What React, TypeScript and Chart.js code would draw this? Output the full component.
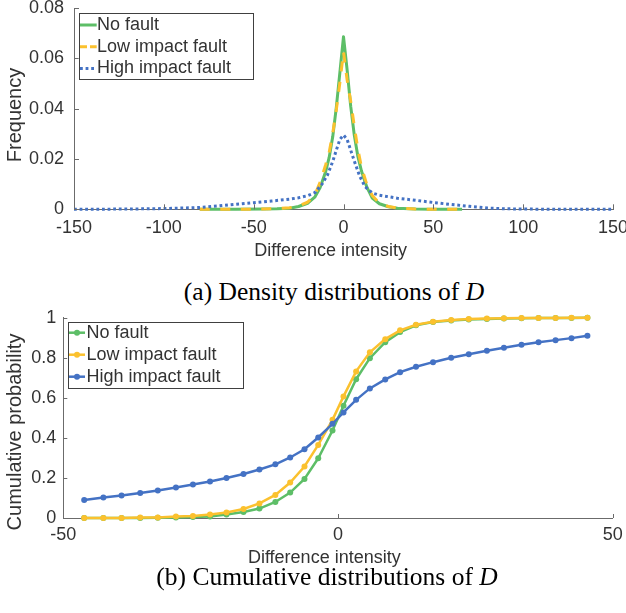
import React, { useEffect, useRef } from 'react';
import { Chart, registerables } from 'chart.js';

Chart.register(...registerables);

const FONT = "'Liberation Sans', Arial, sans-serif";
const TEXT = '#333333';
const AXIS = '#6b6b6b';
const GREEN = '#5DBE67';
const YELLOW = '#FBC12E';
const BLUE = '#4472C4';

const seriesLabels = ['No fault', 'Low impact fault', 'High impact fault'];
const xAxisTitle = 'Difference intensity';

// (a) density distributions
const densityX = [-80, -60, -45, -37, -30, -25, -20, -16, -13, -10, -8, -6, -4, -2, 0, 2, 4, 6, 8, 10, 13, 16, 20, 25, 30, 40, 50, 66];
const densityNoFault = [0, 0, 0.0001, 0.0002, 0.0004, 0.0011, 0.0024, 0.0048, 0.0087, 0.0148, 0.0205, 0.0288, 0.0405, 0.0545, 0.0686, 0.0555, 0.041, 0.0295, 0.021, 0.0152, 0.0088, 0.0045, 0.0022, 0.001, 0.0004, 0.0001, 0, 0];
const densityLowImpact = [0, 0, 0.0001, 0.0003, 0.0006, 0.0013, 0.0028, 0.0056, 0.0108, 0.0175, 0.0225, 0.0302, 0.0395, 0.0505, 0.0626, 0.0515, 0.043, 0.033, 0.0238, 0.0168, 0.0098, 0.0055, 0.0024, 0.0011, 0.0005, 0.0001, 0, 0];
const densityHighX = [-150, -120, -100, -80, -70, -60, -50, -40, -30, -25, -20, -16, -12, -9, -6, -4, -2, 0, 2, 4, 6, 9, 12, 16, 20, 25, 30, 40, 50, 60, 70, 80, 90, 100, 120, 150];
const densityHighImpact = [0, 0.0001, 0.0003, 0.0007, 0.0013, 0.002, 0.0026, 0.0033, 0.004, 0.0046, 0.0054, 0.0066, 0.01, 0.0135, 0.019, 0.0235, 0.0278, 0.0295, 0.0278, 0.0235, 0.0192, 0.0132, 0.009, 0.0065, 0.0056, 0.005, 0.0044, 0.0036, 0.0027, 0.0019, 0.0012, 0.0005, 0.0002, 0.0001, 0, 0];
const densityXRange = [-150, 150];
const densityXStep = 50;
const densityYRange = [0, 0.08];
const densityYStep = 0.02;

// (b) cumulative distributions
const cumX = [-46.2, -42.7, -39.4, -36.0, -32.8, -29.5, -26.4, -23.3, -20.3, -17.2, -14.3, -11.4, -8.7, -6.1, -3.6, -1.0, 1.0, 3.3, 5.8, 8.6, 11.3, 14.2, 17.3, 20.6, 23.8, 27.1, 30.2, 33.4, 36.5, 39.6, 42.5, 45.4];
const cumNoFault = [0, 0, 0, 0, 0.001, 0.002, 0.005, 0.008, 0.017, 0.03, 0.047, 0.08, 0.127, 0.195, 0.298, 0.437, 0.56, 0.693, 0.798, 0.878, 0.928, 0.962, 0.978, 0.986, 0.991, 0.994, 0.996, 0.997, 0.998, 0.999, 0.999, 1.0];
const cumLowImpact = [0, 0, 0, 0.002, 0.003, 0.007, 0.01, 0.017, 0.028, 0.045, 0.073, 0.115, 0.177, 0.257, 0.365, 0.49, 0.607, 0.732, 0.827, 0.893, 0.937, 0.965, 0.98, 0.988, 0.993, 0.996, 0.997, 0.998, 0.999, 0.999, 1.0, 1.0];
const cumHighImpact = [0.09, 0.102, 0.112, 0.125, 0.137, 0.152, 0.167, 0.182, 0.2, 0.22, 0.242, 0.268, 0.302, 0.343, 0.402, 0.47, 0.527, 0.59, 0.647, 0.692, 0.728, 0.755, 0.778, 0.8, 0.818, 0.835, 0.85, 0.865, 0.877, 0.888, 0.898, 0.91];
const cumXRange = [-50, 50];
const cumXStep = 50;
const cumYRange = [0, 1];
const cumYStep = 0.2;

const pts = (xs: number[], ys: number[]) => xs.map((x, i) => ({ x, y: ys[i] }));
const fmt = (v: any) => String(Number(Number(v).toFixed(4)));

const decorPlugin = {
  id: 'decor',
  afterDraw(chart: any, _args: any, opts: any) {
    const ctx = chart.ctx as CanvasRenderingContext2D;
    const { left, top, bottom } = chart.chartArea;
    ctx.save();
    // inward tick marks
    ctx.strokeStyle = AXIS;
    ctx.lineWidth = 1;
    const xs = chart.scales.x;
    const ys = chart.scales.y;
    xs.ticks.forEach((_t: any, i: number) => {
      const p = Math.round(xs.getPixelForTick(i)) + 0.5;
      ctx.beginPath();
      ctx.moveTo(p, bottom);
      ctx.lineTo(p, bottom - opts.tickLen);
      ctx.stroke();
    });
    ys.ticks.forEach((_t: any, i: number) => {
      const p = Math.round(ys.getPixelForTick(i)) + 0.5;
      ctx.beginPath();
      ctx.moveTo(left, p);
      ctx.lineTo(left + opts.tickLen, p);
      ctx.stroke();
    });
    // axis titles
    ctx.fillStyle = TEXT;
    ctx.textAlign = 'center';
    ctx.textBaseline = 'middle';
    ctx.font = `18px ${FONT}`;
    ctx.fillText(opts.xTitle, opts.xTitleX, opts.xTitleY);
    ctx.save();
    ctx.font = `20px ${FONT}`;
    ctx.translate(opts.yTitleX, opts.yTitleY);
    ctx.rotate(-Math.PI / 2);
    ctx.fillText(opts.yTitle, 0, 0);
    ctx.restore();
    // legend
    const L = opts.legend;
    const bx = left + L.dx;
    const by = top + L.dy;
    ctx.fillStyle = '#ffffff';
    ctx.fillRect(bx, by, L.w, L.h);
    ctx.strokeStyle = '#404040';
    ctx.lineWidth = 1;
    ctx.setLineDash([]);
    ctx.strokeRect(Math.round(bx) + 0.5, Math.round(by) + 0.5, Math.round(L.w), Math.round(L.h));
    chart.data.datasets.forEach((ds: any, i: number) => {
      const cy = by + L.firstRow + i * L.rowH;
      ctx.strokeStyle = ds.borderColor;
      ctx.lineWidth = ds.borderWidth;
      ctx.setLineDash(L.dashes[i]);
      ctx.lineCap = 'butt';
      ctx.beginPath();
      ctx.moveTo(bx + L.s0, cy);
      ctx.lineTo(bx + L.s1, cy);
      ctx.stroke();
      ctx.setLineDash([]);
      if (L.marker) {
        ctx.fillStyle = ds.borderColor;
        ctx.beginPath();
        ctx.arc(bx + (L.s0 + L.s1) / 2, cy, L.marker, 0, Math.PI * 2);
        ctx.fill();
      }
      ctx.fillStyle = TEXT;
      ctx.font = `18px ${FONT}`;
      ctx.textAlign = 'left';
      ctx.textBaseline = 'middle';
      ctx.fillText(ds.label, bx + L.tx, cy);
    });
    ctx.restore();
  },
};

const axisCommon = (min: number, max: number, step: number, pad: number) => ({
  type: 'linear' as const,
  min,
  max,
  ticks: { stepSize: step, font: { family: FONT, size: 18 }, color: TEXT, padding: pad, maxRotation: 0, autoSkip: false, callback: fmt },
  grid: { display: true, drawOnChartArea: false, drawTicks: false },
  border: { display: true, color: AXIS, width: 1 },
});

function DensityChart() {
  const ref = useRef<HTMLCanvasElement>(null);
  useEffect(() => {
    const line = { borderWidth: 3, pointRadius: 0, tension: 0, clip: false as any, fill: false, borderJoinStyle: 'round' as const };
    const chart = new Chart(ref.current as HTMLCanvasElement, {
      type: 'line',
      data: {
        datasets: [
          { label: seriesLabels[0], data: pts(densityX, densityNoFault), borderColor: GREEN, order: 3, ...line },
          { label: seriesLabels[1], data: pts(densityX, densityLowImpact), borderColor: YELLOW, borderDash: [10, 10.5], order: 2, ...line },
          { label: seriesLabels[2], data: pts(densityHighX, densityHighImpact), borderColor: BLUE, borderDash: [2.8, 2.8], order: 1, ...line },
        ],
      },
      options: {
        animation: false,
        responsive: false,
        events: [],
        layout: { padding: { left: 0, right: 27, top: 28, bottom: 0 } },
        plugins: {
          legend: { display: false },
          tooltip: { enabled: false },
          decor: {
            tickLen: 5,
            xTitle: xAxisTitle,
            xTitleX: 330.7,
            xTitleY: 271.5,
            yTitle: 'Frequency',
            yTitleX: 15.3,
            yTitleY: 135,
            legend: { dx: 4.7, dy: 5.3, w: 174.3, h: 65.7, firstRow: 11.7, rowH: 21.7, s0: 1.3, s1: 18, tx: 18.3, marker: 0, dashes: [[], [7, 3], [2.8, 2.8]] },
          },
        } as any,
        scales: {
          x: {
            ...axisCommon(densityXRange[0], densityXRange[1], densityXStep, 8),
            afterFit: (s: any) => { s.height = 56.7; },
          },
          y: {
            ...axisCommon(densityYRange[0], densityYRange[1], densityYStep, 10),
            afterFit: (s: any) => { s.width = 74; },
          },
        } as any,
      },
      plugins: [decorPlugin],
    });
    return () => chart.destroy();
  }, []);
  return <canvas ref={ref} width={640} height={286} style={{ position: 'absolute', left: 0, top: -20, width: 640, height: 286 }} />;
}

function CumulativeChart() {
  const ref = useRef<HTMLCanvasElement>(null);
  useEffect(() => {
    const common = { borderWidth: 2.5, pointRadius: 3, pointBorderWidth: 0, pointHoverRadius: 0, tension: 0, clip: false as any, fill: false };
    const chart = new Chart(ref.current as HTMLCanvasElement, {
      type: 'line',
      data: {
        datasets: [
          { label: seriesLabels[0], data: pts(cumX, cumNoFault), borderColor: GREEN, pointBackgroundColor: GREEN, order: 3, ...common },
          { label: seriesLabels[1], data: pts(cumX, cumLowImpact), borderColor: YELLOW, pointBackgroundColor: YELLOW, order: 2, ...common },
          { label: seriesLabels[2], data: pts(cumX, cumHighImpact), borderColor: BLUE, pointBackgroundColor: BLUE, order: 1, ...common },
        ],
      },
      options: {
        animation: false,
        responsive: false,
        events: [],
        layout: { padding: { left: 0, right: 27.3, top: 27.7, bottom: 0 } },
        plugins: {
          legend: { display: false },
          tooltip: { enabled: false },
          decor: {
            tickLen: 4,
            xTitle: xAxisTitle,
            xTitleX: 324.3,
            xTitleY: 268.5,
            yTitle: 'Cumulative probability',
            yTitleX: 15.2,
            yTitleY: 142,
            legend: { dx: 4.2, dy: 4, w: 174.5, h: 65.6, firstRow: 11, rowH: 22, s0: 1.5, s1: 17.5, tx: 19, marker: 3, dashes: [[], [], []] },
          },
        } as any,
        scales: {
          x: {
            ...axisCommon(cumXRange[0], cumXRange[1], cumXStep, 6),
            afterFit: (s: any) => { s.height = 56; },
          },
          y: {
            ...axisCommon(cumYRange[0], cumYRange[1], cumYStep, 7),
            afterFit: (s: any) => { s.width = 63.3; },
          },
        } as any,
      },
      plugins: [decorPlugin],
    });
    return () => chart.destroy();
  }, []);
  return <canvas ref={ref} width={640} height={284} style={{ position: 'absolute', left: 0, top: 290, width: 640, height: 284 }} />;
}

const captionStyle: React.CSSProperties = {
  position: 'absolute',
  width: 500,
  textAlign: 'center',
  fontFamily: "'Liberation Serif', 'Times New Roman', serif",
  fontSize: 25.5,
  lineHeight: '30px',
  color: '#000',
  whiteSpace: 'nowrap',
};

export default function App() {
  return (
    <div style={{ position: 'absolute', left: 0, top: 0, width: 626, height: 613, overflow: 'hidden', background: '#fff' }}>
      <DensityChart />
      <div style={{ ...captionStyle, left: 334 - 250, top: 277 }}>(a) Density distributions of <i>D</i></div>
      <CumulativeChart />
      <div style={{ ...captionStyle, left: 327 - 250, top: 562 }}>(b) Cumulative distributions of <i>D</i></div>
    </div>
  );
}
